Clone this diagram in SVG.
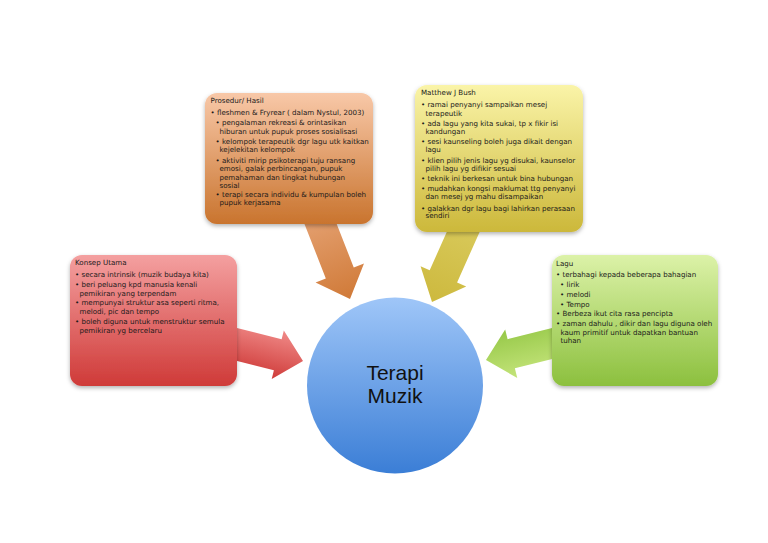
<svg xmlns="http://www.w3.org/2000/svg" width="768" height="543" viewBox="0 0 768 543">
<defs>
<linearGradient id="gRed" x1="0" y1="0" x2="0" y2="1"><stop offset="0" stop-color="#f4a0a0"/><stop offset="1" stop-color="#cf3a38"/></linearGradient>
<linearGradient id="gOrange" x1="0" y1="0" x2="0" y2="1"><stop offset="0" stop-color="#f8c8a8"/><stop offset="1" stop-color="#c9742e"/></linearGradient>
<linearGradient id="gYellow" x1="0" y1="0" x2="0" y2="1"><stop offset="0" stop-color="#faf4a8"/><stop offset="1" stop-color="#ccb83a"/></linearGradient>
<linearGradient id="gGreen" x1="0" y1="0" x2="0" y2="1"><stop offset="0" stop-color="#dcf2a8"/><stop offset="1" stop-color="#8cc03e"/></linearGradient>
<linearGradient id="gBlue" x1="0" y1="0" x2="0" y2="1"><stop offset="0" stop-color="#9fc6f8"/><stop offset="1" stop-color="#3b7ed6"/></linearGradient>
<linearGradient id="aRed" x1="0" y1="0" x2="0" y2="1"><stop offset="0" stop-color="#f08a88"/><stop offset="1" stop-color="#cf3c3a"/></linearGradient>
<linearGradient id="aOrange" x1="0" y1="0" x2="1" y2="0"><stop offset="0" stop-color="#e4a070"/><stop offset="1" stop-color="#d07a38"/></linearGradient>
<linearGradient id="aYellow" x1="0" y1="0" x2="1" y2="0"><stop offset="0" stop-color="#d8c95a"/><stop offset="1" stop-color="#cdb93e"/></linearGradient>
<linearGradient id="aGreen" x1="0" y1="0" x2="0" y2="1"><stop offset="0" stop-color="#c4e47a"/><stop offset="1" stop-color="#96c848"/></linearGradient>
<filter id="sh" x="-10%" y="-10%" width="120%" height="125%"><feDropShadow dx="0" dy="2" stdDeviation="2" flood-color="#000" flood-opacity="0.3"/></filter>
</defs>
<style>
.t{font-family:"DejaVu Sans",Verdana,sans-serif;font-size:7.1px;fill:#1a1a1a}
.c{font-family:"Liberation Sans",Arial,sans-serif;font-size:21px;fill:#111;text-anchor:middle}
.box{filter:url(#sh)}
</style>
<rect width="768" height="543" fill="#fff"/>
<g id="connectors">
<polygon transform="translate(303,361) rotate(14)" fill="url(#aRed)" points="-72,-16 -26,-16 -26,-25 0,0 -26,25 -26,16 -72,16"/>
<polygon transform="translate(350,299) rotate(68.6)" fill="url(#aOrange)" points="-90,-15 -28,-15 -28,-26 0,0 -28,26 -28,15 -90,15"/>
<polygon transform="translate(432,302) rotate(114)" fill="url(#aYellow)" points="-85,-15 -28,-15 -28,-25 0,0 -28,25 -28,15 -85,15"/>
<polygon transform="translate(486,360) rotate(166)" fill="url(#aGreen)" points="-78,-15 -26,-15 -26,-25 0,0 -26,25 -26,15 -78,15"/>
</g>
<g id="konsep">
<rect class="box" x="70" y="255" width="167" height="131" rx="12" fill="url(#gRed)"/>
<text class="t" x="75" y="265">Konsep Utama</text>
<text class="t" x="75" y="277">• secara intrinsik (muzik budaya kita)</text>
<text class="t" x="75" y="287">• beri peluang kpd manusia kenali</text>
<text class="t" x="79.5" y="295.7">pemikiran yang terpendam</text>
<text class="t" x="75" y="305">• mempunyai struktur asa seperti ritma,</text>
<text class="t" x="79.5" y="313.7">melodi, pic dan tempo</text>
<text class="t" x="75" y="324">• boleh diguna untuk menstruktur semula</text>
<text class="t" x="79.5" y="332.5">pemikiran yg bercelaru</text>
</g>
<g id="prosedur">
<rect class="box" x="205" y="93" width="168" height="131" rx="12" fill="url(#gOrange)"/>
<text class="t" x="210.5" y="102.7">Prosedur/ Hasil</text>
<text class="t" x="210.5" y="115.3">• fleshmen &amp; Fryrear ( dalam Nystul, 2003)</text>
<text class="t" x="215.5" y="125.3">• pengalaman rekreasi &amp; orintasikan</text>
<text class="t" x="219.5" y="133.7">hiburan untuk pupuk proses sosialisasi</text>
<text class="t" x="215.5" y="143.7">• kelompok terapeutik dgr lagu utk kaitkan</text>
<text class="t" x="219.5" y="152">kejelekitan kelompok</text>
<text class="t" x="215.5" y="163">• aktiviti mirip psikoterapi tuju ransang</text>
<text class="t" x="219.5" y="171.3">emosi, galak perbincangan, pupuk</text>
<text class="t" x="219.5" y="179.5">pemahaman dan tingkat hubungan</text>
<text class="t" x="219.5" y="187.5">sosial</text>
<text class="t" x="215.5" y="197">• terapi secara individu &amp; kumpulan boleh</text>
<text class="t" x="219.5" y="205.3">pupuk kerjasama</text>
</g>
<g id="matthew">
<rect class="box" x="415" y="85" width="168" height="147" rx="12" fill="url(#gYellow)"/>
<text class="t" x="421" y="95">Matthew J Bush</text>
<text class="t" x="421" y="107.3">• ramai penyanyi sampaikan mesej</text>
<text class="t" x="425.5" y="115.7">terapeutik</text>
<text class="t" x="421" y="125.7">• ada lagu yang kita sukai, tp x fikir isi</text>
<text class="t" x="425.5" y="133.5">kandungan</text>
<text class="t" x="421" y="144">• sesi kaunseling boleh juga dikait dengan</text>
<text class="t" x="425.5" y="152.3">lagu</text>
<text class="t" x="421" y="163">• klien pilih jenis lagu yg disukai, kaunselor</text>
<text class="t" x="425.5" y="170.8">pilih lagu yg difikir sesuai</text>
<text class="t" x="421" y="181.3">• teknik ini berkesan untuk bina hubungan</text>
<text class="t" x="421" y="191.3">• mudahkan kongsi maklumat ttg penyanyi</text>
<text class="t" x="425.5" y="199.4">dan mesej yg mahu disampaikan</text>
<text class="t" x="421" y="210.7">• galakkan dgr lagu bagi lahirkan perasaan</text>
<text class="t" x="425.5" y="218.3">sendiri</text>
</g>
<g id="lagu">
<rect class="box" x="552" y="255" width="166" height="131" rx="12" fill="url(#gGreen)"/>
<text class="t" x="556" y="266.3">Lagu</text>
<text class="t" x="556" y="277.3">• terbahagi kepada beberapa bahagian</text>
<text class="t" x="560" y="286.5">• lirik</text>
<text class="t" x="560" y="296.5">• melodi</text>
<text class="t" x="560" y="306.5">• Tempo</text>
<text class="t" x="556" y="316.3">• Berbeza ikut cita rasa pencipta</text>
<text class="t" x="556" y="326.3">• zaman dahulu , dikir dan lagu diguna oleh</text>
<text class="t" x="560.5" y="334.8">kaum primitif untuk dapatkan bantuan</text>
<text class="t" x="560.5" y="343.2">tuhan</text>
</g>
<g id="terapi">
<circle cx="395" cy="385.5" r="88" fill="url(#gBlue)"/>
<text class="c" x="395" y="380">Terapi</text>
<text class="c" x="395" y="402.5">Muzik</text>
</g>
</svg>
